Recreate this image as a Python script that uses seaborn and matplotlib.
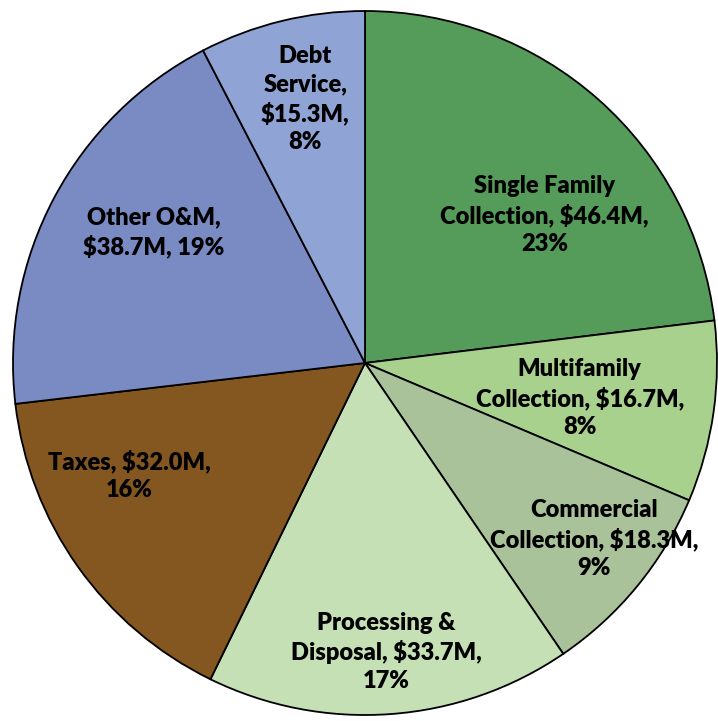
import matplotlib
matplotlib.use("Agg")
import matplotlib.pyplot as plt
import seaborn as sns

sns.set_theme(style="white")
plt.rcParams['font.family'] = ['Lato', 'DejaVu Sans']

# Budget components ($M), clockwise from 12 o'clock
categories = ["Single Family\nCollection", "Multifamily\nCollection", "Commercial\nCollection",
              "Processing &\nDisposal", "Taxes", "Other O&M", "Debt\nService"]
values = [46.4, 16.7, 18.3, 33.7, 32.0, 38.7, 15.3]
percents = [23, 8, 9, 17, 16, 19, 8]
label_text = [
    "Single Family\nCollection, $46.4M,\n23%",
    "Multifamily\nCollection, $16.7M,\n8%",
    "Commercial\nCollection, $18.3M,\n9%",
    "Processing &\nDisposal, $33.7M,\n17%",
    "Taxes, $32.0M,\n16%",
    "Other O&M,\n$38.7M, 19%",
    "Debt\nService,\n$15.3M,\n8%",
]
colors = ["#559B5A", "#A9D18E", "#A9C29A", "#C5E0B4", "#83571F", "#7A8BC4", "#8FA4D4"]

# label anchor points (fraction of radius)
label_xy = [(0.51, 0.42), (0.61, -0.10), (0.65, -0.50), (0.06, -0.82),
            (-0.67, -0.32), (-0.60, 0.37), (-0.17, 0.75)]

fig = plt.figure(figsize=(7.18, 7.21), dpi=100)
ax = fig.add_axes([0, 0, 1, 1])
ax.pie(values, colors=colors, startangle=90, counterclock=False, radius=1.0,
       wedgeprops=dict(edgecolor="black", linewidth=1.3))

for txt, (x, y) in zip(label_text, label_xy):
    ax.text(x, y, txt, ha="center", va="center", fontsize=17, fontweight="heavy",
            color="black", linespacing=1.32)

ax.set_xlim(-365 / 352, (718 - 365) / 352)
ax.set_ylim(-(721 - 363) / 352, 363 / 352)
ax.set_aspect("equal")
ax.axis("off")

fig.savefig("out.png", dpi=100, facecolor="white")
